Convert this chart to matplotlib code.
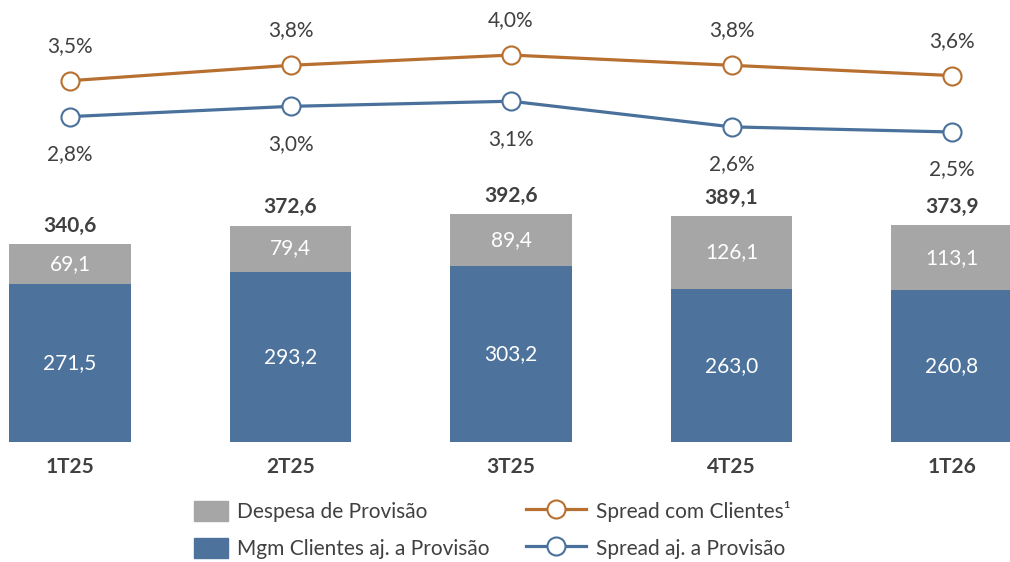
import matplotlib
matplotlib.use("Agg")
import matplotlib.pyplot as plt
from matplotlib.patches import Patch, Rectangle
from matplotlib.lines import Line2D
from matplotlib.legend_handler import HandlerPatch
import numpy as np

categories = ["1T25", "2T25", "3T25", "4T25", "1T26"]
mgm_aj = [271.5, 293.2, 303.2, 263.0, 260.8]
despesa = [69.1, 79.4, 89.4, 126.1, 113.1]
totais = [340.6, 372.6, 392.6, 389.1, 373.9]
spread_clientes = [3.5, 3.8, 4.0, 3.8, 3.6]
spread_aj = [2.8, 3.0, 3.1, 2.6, 2.5]

GRAY = "#A6A6A6"
BLUE = "#4D739C"
ORANGE = "#B7702F"
LBLUE = "#4A719B"
TXT = "#404040"
FS = 15

plt.rcParams["font.family"] = ["Lato", "DejaVu Sans"]


def br(v):
    return f"{v:.1f}".replace(".", ",")


def square_patch(legend, orig_handle, xdescent, ydescent, width, height, fontsize):
    # narrower box, flush right in the handle area
    pw = width * 0.55
    return Rectangle((width - pw - xdescent, -ydescent), pw, height)


fig = plt.figure(figsize=(10.1, 5.62), dpi=100)
ax = fig.add_axes([0, 0, 1, 1])
x = np.arange(len(categories))
w = 0.553

ax.bar(x, mgm_aj, w, color=BLUE)
ax.bar(x, despesa, w, bottom=mgm_aj, color=GRAY)
for i in x:
    ax.text(i, mgm_aj[i] / 2, br(mgm_aj[i]), ha="center", va="center", color="white", fontsize=FS)
    ax.text(i, mgm_aj[i] + despesa[i] / 2, br(despesa[i]), ha="center", va="center", color="white", fontsize=FS)
    ax.annotate(br(totais[i]), (i, totais[i]), xytext=(0, 13), textcoords="offset points",
                ha="center", va="center", color=TXT, fontsize=FS, fontweight="bold")
    ax.annotate(categories[i], (i, 0), xytext=(0, -18), textcoords="offset points",
                ha="center", va="center", color=TXT, fontsize=FS, fontweight="bold")
ax.set_xlim(-0.3175, 4.263)
ax.set_ylim(-206.5, 760.7)
ax.axis("off")

ax2 = ax.twinx()
ax2.plot(x, spread_clientes, "-o", color=ORANGE, lw=2.3, ms=13, mfc="white", mec=ORANGE, mew=1.5)
ax2.plot(x, spread_aj, "-o", color=LBLUE, lw=2.3, ms=13, mfc="white", mec=LBLUE, mew=1.5)
for i in x:
    ax2.annotate(br(spread_clientes[i]) + "%", (i, spread_clientes[i]), xytext=(0, 25),
                 textcoords="offset points", ha="center", va="center", color=TXT, fontsize=FS)
    ax2.annotate(br(spread_aj[i]) + "%", (i, spread_aj[i]), xytext=(0, -27),
                 textcoords="offset points", ha="center", va="center", color=TXT, fontsize=FS)
ax2.set_ylim(-5.882, 5.073)
ax2.axis("off")

handles = [
    Patch(color=GRAY),
    Patch(color=BLUE),
    Line2D([], [], color=ORANGE, lw=2.3, marker="o", ms=13, mfc="white", mec=ORANGE, mew=1.5),
    Line2D([], [], color=LBLUE, lw=2.3, marker="o", ms=13, mfc="white", mec=LBLUE, mew=1.5),
]
labels = ["Despesa de Provisão", "Mgm Clientes aj. a Provisão",
          "Spread com Clientes¹", "Spread aj. a Provisão"]
leg = fig.legend(handles, labels, ncol=2, loc="center", bbox_to_anchor=(0.474, 0.057),
                 frameon=False, fontsize=FS, handlelength=2.9, handleheight=1.15,
                 columnspacing=1.75, labelspacing=0.75, handletextpad=0.45, labelcolor=TXT,
                 handler_map={Patch: HandlerPatch(patch_func=square_patch)})

fig.savefig("out.png", dpi=100)
